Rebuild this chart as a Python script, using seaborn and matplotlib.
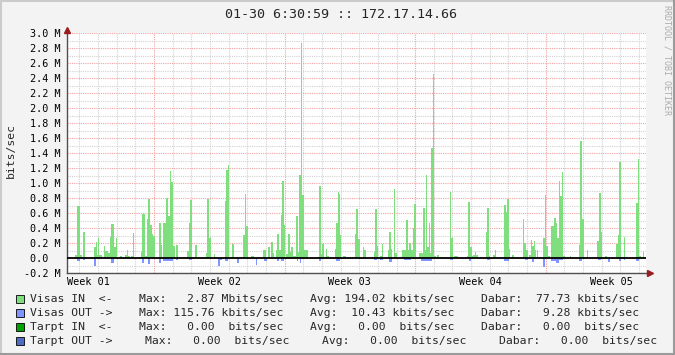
import numpy as np
import pandas as pd
import matplotlib
matplotlib.use("Agg")
import matplotlib.pyplot as plt
import matplotlib.transforms as mtransforms
from matplotlib.patches import Rectangle
from matplotlib.lines import Line2D
import seaborn as sns

# ---------------- data (hours since graph start, Mbit/s) ----------------
T_END = 745            # graph span in hours (~31 days)
FIRST_MONDAY = 112     # first week boundary (hours)
HOURS_PER_DAY = 24
HOURS_PER_WEEK = 168

week_labels = ["Week 01", "Week 02", "Week 03", "Week 04", "Week 05"]

# Visas IN  (start_h, end_h, Mbit/s)
visas_in_w1 = [(10, 13, 0.04), (13, 17, 0.70), (17, 19, 0.04), (21, 23, 0.35), (35, 37, 0.15),
               (37, 39, 0.21), (39, 40, 0.04), (40, 41, 0.27), (41, 45, 0.04), (48, 49, 0.16),
               (49, 53, 0.10), (53, 55, 0.07), (55, 57, 0.28), (57, 60, 0.46), (60, 63, 0.14),
               (63, 64, 0.26), (68, 71, 0.03), (75, 77, 0.04), (77, 78, 0.11), (78, 81, 0.03),
               (82, 85, 0.03), (85, 86, 0.34), (93, 95, 0.02), (95, 96, 0.08), (96, 100, 0.59),
               (100, 103, 0.03), (103, 104, 0.52), (104, 107, 0.78), (107, 109, 0.44),
               (109, 111, 0.32), (111, 113, 0.30)]
visas_in_w2 = [(118, 121, 0.47), (121, 122, 0.18), (124, 127, 0.47), (127, 128, 1.82), (128, 130, 0.80),
               (130, 133, 0.56), (133, 134, 1.16), (134, 136, 1.02), (136, 139, 0.16), (140, 143, 0.18),
               (154, 157, 0.10), (157, 158, 0.47), (158, 161, 0.78), (165, 167, 0.18), (179, 180, 0.07),
               (180, 183, 0.78), (183, 185, 0.26), (189, 190, 0.06), (203, 205, 0.76), (205, 207, 1.18),
               (207, 208, 1.24), (208, 211, 0.02), (212, 215, 0.19), (226, 229, 0.31), (229, 230, 0.86),
               (230, 233, 0.43), (237, 241, 0.03), (252, 256, 0.11), (259, 261, 0.15), (262, 265, 0.22),
               (265, 266, 0.07), (269, 270, 0.11), (270, 273, 0.32), (273, 275, 0.11), (275, 277, 0.58),
               (277, 279, 1.03), (279, 280, 0.44)]
visas_in_w3 = [(282, 284, 0.06), (284, 287, 0.32), (287, 288, 0.08), (288, 291, 0.14), (291, 295, 0.03),
               (295, 297, 0.56), (297, 298, 0.08), (298, 301, 1.10), (301, 302, 2.87), (302, 305, 0.84),
               (305, 306, 0.11), (306, 310, 0.10), (323, 324, 0.02), (324, 327, 0.96), (327, 328, 0.06),
               (328, 331, 0.19), (333, 335, 0.12), (335, 337, 0.03), (345, 346, 0.12), (346, 349, 0.47),
               (349, 350, 0.88), (350, 351, 0.86), (351, 353, 0.31), (355, 359, 0.03), (370, 372, 0.32),
               (372, 374, 0.66), (374, 377, 0.26), (381, 382, 0.14), (382, 385, 0.10), (395, 396, 0.08),
               (396, 399, 0.66), (399, 400, 0.16), (403, 405, 0.02), (405, 407, 0.19), (413, 414, 0.10),
               (414, 417, 0.34), (417, 418, 0.12), (421, 422, 0.92), (422, 425, 0.06), (431, 436, 0.10),
               (436, 439, 0.51), (439, 440, 0.10), (440, 443, 0.20), (443, 445, 0.11), (445, 446, 0.40),
               (446, 449, 0.72)]
visas_in_w4 = [(453, 455, 0.06), (455, 458, 0.06), (458, 461, 0.67), (461, 462, 0.11), (462, 463, 1.11),
               (463, 466, 0.14), (466, 467, 0.46), (467, 468, 0.06), (468, 471, 1.46), (471, 472, 2.45),
               (472, 475, 0.03), (476, 479, 0.04), (493, 494, 0.88), (494, 497, 0.27), (498, 503, 0.02),
               (515, 516, 0.02), (516, 518, 0.75), (518, 521, 0.14), (521, 522, 0.03), (522, 525, 0.04),
               (525, 526, 0.08), (526, 529, 0.04), (539, 540, 0.35), (540, 543, 0.67), (543, 544, 0.03),
               (548, 551, 0.04), (551, 552, 0.10), (562, 565, 0.71), (565, 566, 0.62), (566, 569, 0.79),
               (569, 570, 0.12), (572, 575, 0.04), (587, 588, 0.52), (588, 590, 0.20), (590, 593, 0.10),
               (594, 597, 0.04), (597, 598, 0.24), (598, 601, 0.16), (601, 602, 0.23), (602, 603, 0.11),
               (605, 606, 0.11), (612, 615, 0.27), (615, 616, 0.84)]
visas_in_w5 = [(616, 619, 0.16), (619, 621, 0.03), (623, 627, 0.43), (627, 629, 0.54), (629, 630, 0.46),
               (630, 633, 0.27), (633, 634, 1.03), (634, 637, 0.82), (637, 638, 1.15), (638, 641, 0.02),
               (647, 648, 0.03), (659, 660, 0.18), (660, 663, 1.56), (663, 665, 0.52), (669, 670, 0.11),
               (682, 684, 0.23), (684, 687, 0.87), (687, 688, 0.35), (688, 691, 0.02), (692, 695, 0.03),
               (706, 709, 0.18), (709, 710, 0.31), (710, 713, 1.28), (713, 714, 0.02), (717, 718, 0.28),
               (732, 735, 0.74), (735, 736, 1.32), (736, 738, 0.03), (741, 742, 0.08)]

# Visas OUT (start_h, end_h, Mbit/s) -- drawn below zero
visas_out_a = [(13, 17, 0.04), (21, 23, 0.02), (35, 37, 0.10), (57, 60, 0.06), (96, 99, 0.06),
               (104, 107, 0.08), (118, 121, 0.06), (124, 136, 0.035), (140, 143, 0.03), (157, 161, 0.02),
               (194, 197, 0.10), (197, 200, 0.02), (203, 207, 0.035), (219, 221, 0.06), (243, 244, 0.09),
               (254, 257, 0.035), (270, 273, 0.035), (275, 279, 0.035)]
visas_out_b = [(296, 297, 0.035), (300, 301, 0.06), (324, 327, 0.035), (346, 351, 0.035), (395, 399, 0.02),
               (403, 407, 0.02), (414, 418, 0.05), (434, 443, 0.02), (455, 470, 0.035), (493, 497, 0.02),
               (517, 520, 0.035), (540, 544, 0.02), (562, 569, 0.035), (589, 593, 0.02), (598, 601, 0.05),
               (612, 615, 0.12), (623, 629, 0.035), (629, 633, 0.06), (633, 638, 0.02), (659, 663, 0.035),
               (683, 687, 0.02), (696, 699, 0.05), (710, 713, 0.035), (717, 718, 0.02), (732, 736, 0.035)]

y_ticks = [-0.2, 0.0, 0.2, 0.4, 0.6, 0.8, 1.0, 1.2, 1.4, 1.6, 1.8, 2.0, 2.2, 2.4, 2.6, 2.8, 3.0]
y_minor = [-0.1, 0.1, 0.3, 0.5, 0.7, 0.9, 1.1, 1.3, 1.5, 1.7, 1.9, 2.1, 2.3, 2.5, 2.7, 2.9]

title = "01-30 6:30:59 :: 172.17.14.66"
legend_names = ["Visas IN  <-", "Visas OUT ->", "Tarpt IN  <-", "Tarpt OUT ->"]
legend_colors = ["#7FDF7F", "#8095FF", "#00A000", "#4F6CC4"]
legend_max = ["  2.87 M", "115.76 k", "  0.00  ", "  0.00  "]
legend_avg = ["194.02 k", " 10.43 k", "  0.00  ", "  0.00  "]
legend_cur = [" 77.73 k", "  9.28 k", "  0.00  ", "  0.00  "]

# ---------------- style ----------------
sns.set_style("white")
plt.rcParams["font.family"] = ["DejaVu Sans Mono"]
MONO = "DejaVu Sans Mono"

W, H = 675, 355
fig = plt.figure(figsize=(W / 100, H / 100), dpi=100, facecolor="#F3F3F3")
ax = fig.add_axes([67 / W, 82 / H, 579 / W, 240 / H])
ax.set_facecolor("white")


def draw_series(segments, color, sign):
    s = np.array(segments, dtype=float)
    edges = np.unique(np.concatenate([[0.0, float(T_END)], s[:, 0], s[:, 1]]))
    df = pd.DataFrame({"hour": (s[:, 0] + s[:, 1]) / 2.0, "rate": sign * s[:, 2]})
    sns.histplot(data=df, x="hour", weights="rate", bins=list(edges), element="step", fill=True,
                 color=color, alpha=1.0, linewidth=0, ax=ax, zorder=2)


draw_series(visas_in_w1 + visas_in_w2 + visas_in_w3 + visas_in_w4 + visas_in_w5, legend_colors[0], 1.0)
draw_series(visas_out_a + visas_out_b, legend_colors[1], -1.0)

ax.set_xlim(0, T_END)
ax.set_ylim(y_ticks[0], y_ticks[-1])
ax.set_xlabel("")
ax.set_ylabel("")

# grid
red = "#F2A3A3"
gray = "#D2D2D2"
dots = (0, (1, 1))
ax.set_yticks(y_ticks)
ax.set_yticklabels([(f"{v:.1f} M" if abs(v) > 1e-9 else "0.0  ") for v in y_ticks])
ax.set_yticks(y_minor, minor=True)
ax.grid(which="major", axis="y", color=red, linestyle=dots, linewidth=0.8, zorder=0)
ax.grid(which="minor", axis="y", color=gray, linestyle=dots, linewidth=0.8, zorder=0)
ax.set_axisbelow(True)

day_lines = np.arange(FIRST_MONDAY % HOURS_PER_DAY, T_END, HOURS_PER_DAY)
week_lines = np.arange(FIRST_MONDAY, T_END, HOURS_PER_WEEK)
for d in day_lines:
    if d not in week_lines:
        ax.axvline(d, color=gray, linestyle=dots, linewidth=0.8, zorder=0.5)
for d in week_lines:
    ax.axvline(d, color=red, linestyle=dots, linewidth=0.8, zorder=0.6)

week_centers = FIRST_MONDAY - HOURS_PER_WEEK / 2 + HOURS_PER_WEEK * np.arange(len(week_labels))
ax.set_xticks(week_centers)
ax.set_xticklabels(week_labels)

ax.tick_params(axis="both", which="both", length=0)
ax.tick_params(axis="y", pad=4.3, labelsize=7.3, labelcolor="#000000")
ax.tick_params(axis="x", pad=3.0, labelsize=7.3, labelcolor="#000000")

ax.axhline(0, color="black", linewidth=1.3, zorder=4)

for side in ["top", "right"]:
    ax.spines[side].set_visible(False)
ax.spines["left"].set_color("#505050")
ax.spines["bottom"].set_color("#505050")
ax.spines["left"].set_linewidth(1.0)
ax.spines["bottom"].set_linewidth(1.0)

# axis arrows
up = mtransforms.offset_copy(ax.transAxes, fig=fig, x=0, y=3, units="dots")
ax.plot([0], [1], marker="^", markersize=5, color="#9B1C1C", transform=up, clip_on=False, zorder=5)
rt = mtransforms.offset_copy(ax.transAxes, fig=fig, x=4, y=0, units="dots")
ax.plot([1], [0], marker=">", markersize=5, color="#9B1C1C", transform=rt, clip_on=False, zorder=5)

# texts
fig.text(341 / W, 1 - 14 / H, title, ha="center", va="center", fontsize=9.6, family=MONO)
fig.text(11 / W, 1 - 150 / H, "bits/sec", rotation=90, ha="center", va="center", fontsize=8.2, family=MONO)
fig.text(667 / W, 1 - 5 / H, "RRDTOOL / TOBI OETIKER", rotation=-90, ha="center", va="top",
         fontsize=6, color="#ABABAB", family=MONO)

row_y = [299, 313, 327, 341]
for i in range(4):
    yc = 1 - row_y[i] / H
    fig.add_artist(Rectangle((16 / W, yc - 4 / H), 8 / W, 8 / H, transform=fig.transFigure,
                             facecolor=legend_colors[i], edgecolor="black", linewidth=0.6))
    mx, av, cu = legend_max[i], legend_avg[i], legend_cur[i]
    pieces = [legend_names[i],
              f"Max: {mx[:6]} {mx[7]}bits/sec",
              f"Avg: {av[:6]} {av[7]}bits/sec",
              f"Dabar: {cu[:6]} {cu[7]}bits/sec"]
    if i < 3:
        xs = [30, 30 + 16 * 6.83, 30 + 41 * 6.83, 30 + 66 * 6.83]
    else:
        xs = [30, 145, 322, 499]
    for x, p in zip(xs, pieces):
        fig.text(x / W, yc, p, ha="left", va="center", fontsize=8.2, family=MONO)

# frame
fig.add_artist(Line2D([0, 1], [1 - 1 / H, 1 - 1 / H], transform=fig.transFigure, color="#CBCBCB", lw=1.5))
fig.add_artist(Line2D([1 / W, 1 / W], [0, 1], transform=fig.transFigure, color="#CBCBCB", lw=1.5))
fig.add_artist(Line2D([0, 1], [1 / H, 1 / H], transform=fig.transFigure, color="#9A9A9A", lw=1.5))
fig.add_artist(Line2D([1 - 1 / W, 1 - 1 / W], [0, 1], transform=fig.transFigure, color="#9A9A9A", lw=1.5))

fig.savefig("out.png", dpi=100, facecolor=fig.get_facecolor())
